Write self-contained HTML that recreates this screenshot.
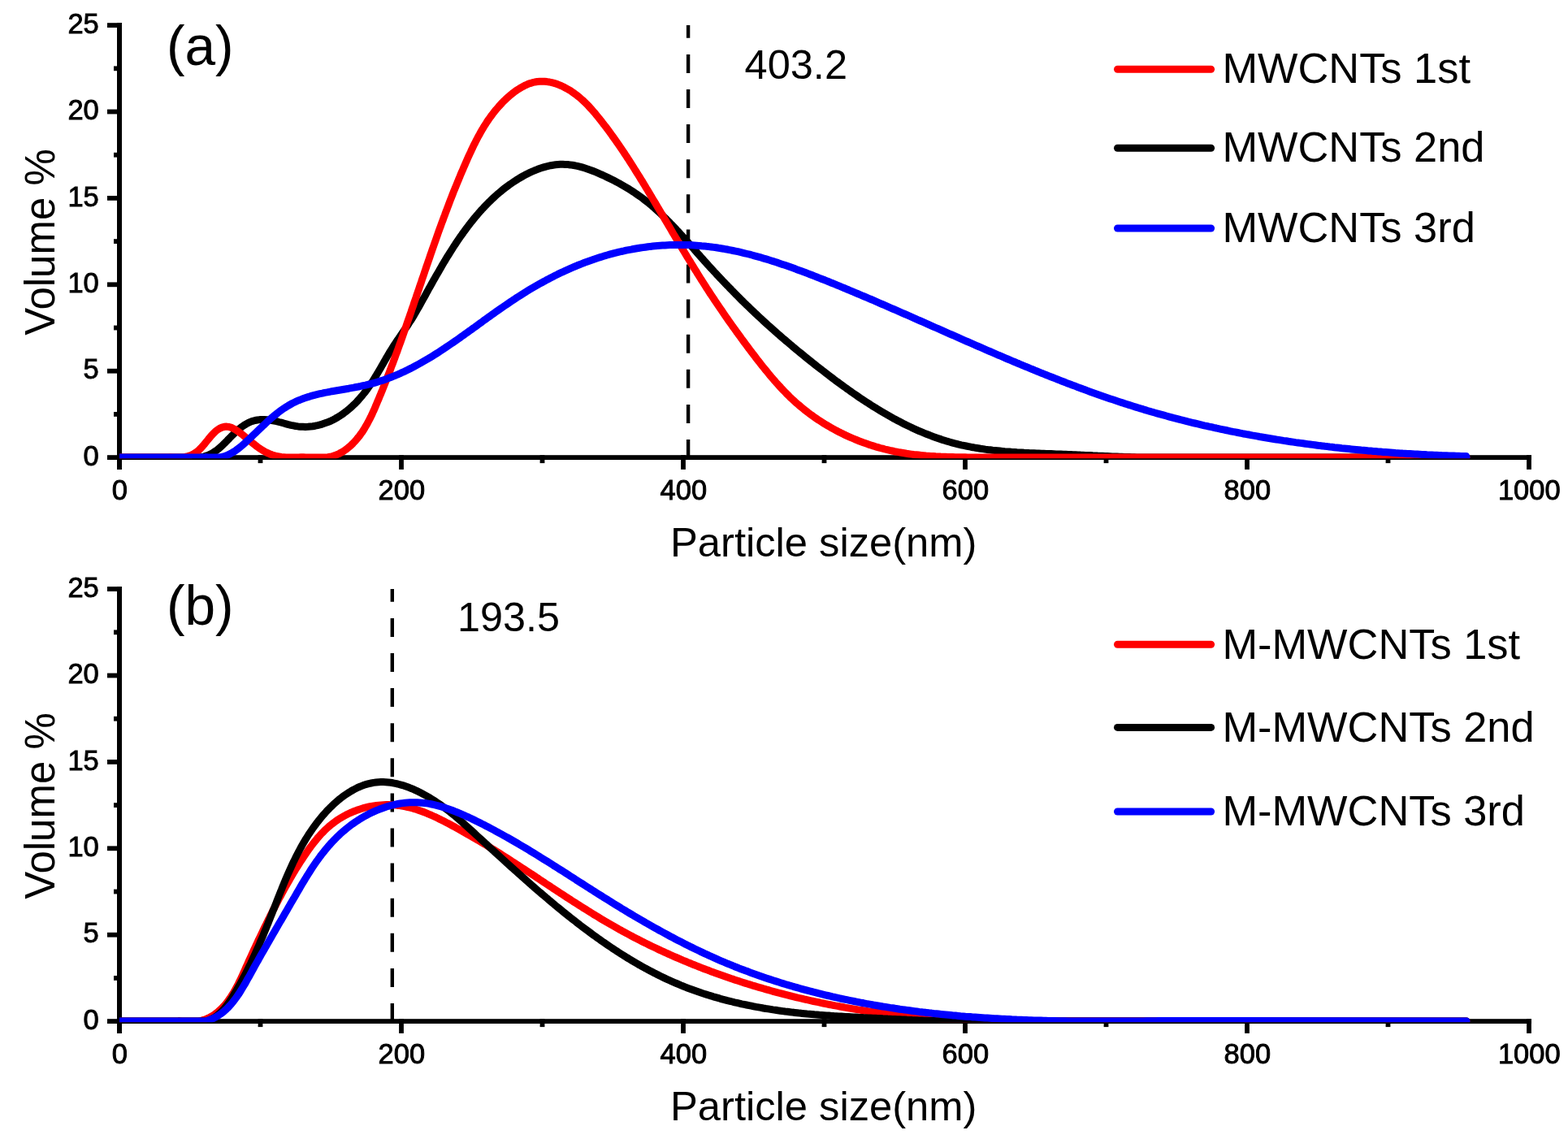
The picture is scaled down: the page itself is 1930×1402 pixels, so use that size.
<!DOCTYPE html><html><head><meta charset="utf-8"><title>Particle size distribution</title><style>html,body{margin:0;padding:0;background:#fff;}svg{display:block;}</style></head><body>
<svg xmlns="http://www.w3.org/2000/svg" width="1930" height="1402" viewBox="0 0 1930 1402" font-family="'Liberation Sans', Arial, sans-serif" fill="#000">
<rect width="1930" height="1402" fill="#fff"/>
<defs><clipPath id="clipa"><rect x="147" y="31" width="1735" height="533.3"/></clipPath><clipPath id="clipb"><rect x="147" y="725" width="1735" height="533.3"/></clipPath></defs>
<rect x="144" y="28.1" width="6" height="549.9"/>
<rect x="144" y="560.2" width="1741.0" height="5.8"/>
<rect x="132" y="560.2" width="18" height="5.8"/>
<rect x="132" y="453.8" width="18" height="5.8"/>
<rect x="132" y="347.4" width="18" height="5.8"/>
<rect x="132" y="241.0" width="18" height="5.8"/>
<rect x="132" y="134.6" width="18" height="5.8"/>
<rect x="132" y="28.2" width="18" height="5.8"/>
<rect x="140" y="507.0" width="10" height="5.8"/>
<rect x="140" y="400.6" width="10" height="5.8"/>
<rect x="140" y="294.2" width="10" height="5.8"/>
<rect x="140" y="187.8" width="10" height="5.8"/>
<rect x="140" y="81.4" width="10" height="5.8"/>
<rect x="144.1" y="560.2" width="5.8" height="17.7"/>
<rect x="491.1" y="560.2" width="5.8" height="17.7"/>
<rect x="838.1" y="560.2" width="5.8" height="17.7"/>
<rect x="1185.1" y="560.2" width="5.8" height="17.7"/>
<rect x="1532.1" y="560.2" width="5.8" height="17.7"/>
<rect x="1879.1" y="560.2" width="5.8" height="17.7"/>
<rect x="317.6" y="560.2" width="5.8" height="9.9"/>
<rect x="664.6" y="560.2" width="5.8" height="9.9"/>
<rect x="1011.6" y="560.2" width="5.8" height="9.9"/>
<rect x="1358.6" y="560.2" width="5.8" height="9.9"/>
<rect x="1705.6" y="560.2" width="5.8" height="9.9"/>
<text x="147.3" y="615.0" text-anchor="middle" font-size="34.5" stroke="#000" stroke-width="0.9">0</text>
<text x="494.3" y="615.0" text-anchor="middle" font-size="34.5" stroke="#000" stroke-width="0.9">200</text>
<text x="841.3" y="615.0" text-anchor="middle" font-size="34.5" stroke="#000" stroke-width="0.9">400</text>
<text x="1188.3" y="615.0" text-anchor="middle" font-size="34.5" stroke="#000" stroke-width="0.9">600</text>
<text x="1535.3" y="615.0" text-anchor="middle" font-size="34.5" stroke="#000" stroke-width="0.9">800</text>
<text x="1882.3" y="615.0" text-anchor="middle" font-size="34.5" stroke="#000" stroke-width="0.9">1000</text>
<text x="121.8" y="572.7" text-anchor="end" font-size="34.5" stroke="#000" stroke-width="0.9">0</text>
<text x="121.8" y="466.3" text-anchor="end" font-size="34.5" stroke="#000" stroke-width="0.9">5</text>
<text x="121.8" y="359.9" text-anchor="end" font-size="34.5" stroke="#000" stroke-width="0.9">10</text>
<text x="121.8" y="253.5" text-anchor="end" font-size="34.5" stroke="#000" stroke-width="0.9">15</text>
<text x="121.8" y="147.1" text-anchor="end" font-size="34.5" stroke="#000" stroke-width="0.9">20</text>
<text x="121.8" y="40.7" text-anchor="end" font-size="34.5" stroke="#000" stroke-width="0.9">25</text>
<text x="825" y="685.0" font-size="50.7">Particle size(nm)</text>
<text transform="translate(67.2 298.0) rotate(-90)" text-anchor="middle" font-size="51">Volume %</text>
<path d="M847.1 564.0 V20.0" stroke="#000" stroke-width="4.4" stroke-dasharray="23 20.1" fill="none" clip-path="url(#clipa)"/>
<path d="M147.0 563.0L229.9 563.0L229.9 562.7 232.9 563.0 235.9 563.0 238.9 563.0 241.9 563.0 244.9 563.0 247.9 562.7 250.8 562.0 253.7 561.2 256.5 560.1 259.3 558.9 261.9 557.5 264.4 555.8 266.9 554.1 269.2 552.2 271.5 550.3 273.7 548.2 275.9 546.1 278.0 544.0 280.1 541.8 282.2 539.7 284.3 537.5 286.4 535.4 288.6 533.3 290.7 531.2 293.0 529.2 295.3 527.2 297.6 525.4 300.1 523.7 302.7 522.1 305.3 520.6 308.0 519.4 310.9 518.3 313.8 517.5 316.7 517.0 319.7 516.6 322.7 516.4 325.7 516.5 328.7 516.7 331.7 517.0 334.7 517.5 337.6 518.1 340.6 518.7 343.5 519.5 346.4 520.2 349.3 521.0 352.2 521.8 355.1 522.6 358.0 523.3 361.0 523.9 363.9 524.5 366.9 524.9 369.9 525.2 372.9 525.3 375.9 525.4 378.9 525.3 381.9 525.0 384.9 524.7 387.9 524.2 390.8 523.6 393.7 522.9 396.6 522.1 399.5 521.1 402.3 520.1 405.1 519.0 407.9 517.8 410.6 516.4 413.2 515.0 415.8 513.5 418.4 511.9 420.9 510.2 423.3 508.5 425.7 506.7 428.1 504.8 430.4 502.9 432.6 500.9 434.8 498.8 437.0 496.7 439.1 494.6 441.1 492.4 443.1 490.1 445.1 487.8 447.0 485.5 448.9 483.2 450.7 480.8 452.5 478.3 454.2 475.9 455.9 473.4 457.6 470.9 459.2 468.4 460.8 465.8 462.4 463.3 463.9 460.7 465.5 458.1 467.0 455.5 468.5 452.9 470.0 450.3 471.5 447.7 473.0 445.1 474.5 442.5 476.0 439.8 477.5 437.3 479.0 434.7 480.6 432.1 482.2 429.5 483.8 427.0 485.4 424.5 487.1 421.9 488.7 419.4 490.4 417.0 492.1 414.5 493.8 412.0 495.5 409.5 497.2 407.0 498.9 404.5 500.6 402.1 502.3 399.6 503.9 397.0 505.6 394.5 507.2 392.0 508.8 389.4 510.3 386.8 511.8 384.2 513.3 381.6 514.8 379.0 516.3 376.4 517.7 373.8 519.2 371.1 520.6 368.5 522.1 365.9 523.6 363.2 525.0 360.6 526.5 358.0 527.9 355.3 529.4 352.7 530.9 350.1 532.3 347.4 533.8 344.8 535.3 342.2 536.8 339.6 538.3 337.0 539.8 334.4 541.3 331.8 542.8 329.2 544.3 326.6 545.8 324.0 547.4 321.4 548.9 318.8 550.5 316.2 552.1 313.7 553.7 311.1 555.3 308.6 556.9 306.1 558.5 303.5 560.2 301.0 561.8 298.5 563.5 296.0 565.2 293.5 566.9 291.0 568.7 288.6 570.4 286.1 572.2 283.7 574.0 281.3 575.8 278.9 577.6 276.5 579.4 274.1 581.3 271.8 583.2 269.4 585.1 267.1 587.1 264.8 589.0 262.5 591.0 260.3 593.0 258.0 595.1 255.8 597.1 253.6 599.2 251.5 601.3 249.3 603.5 247.2 605.6 245.1 607.8 243.1 610.1 241.0 612.3 239.0 614.6 237.1 616.9 235.2 619.2 233.3 621.6 231.4 624.0 229.6 626.4 227.8 628.9 226.1 631.4 224.4 633.9 222.7 636.4 221.1 639.0 219.5 641.6 218.0 644.2 216.5 646.9 215.1 649.5 213.7 652.2 212.4 655.0 211.2 657.7 210.0 660.5 208.9 663.3 207.8 666.2 206.8 669.1 205.9 671.9 205.1 674.9 204.4 677.8 203.7 680.8 203.2 683.8 202.8 686.7 202.5 689.7 202.3 692.8 202.3 695.8 202.4 698.8 202.6 701.8 202.9 704.7 203.3 707.7 203.8 710.6 204.4 713.6 205.1 716.5 205.9 719.4 206.8 722.2 207.7 725.1 208.7 727.9 209.7 730.7 210.8 733.5 211.9 736.3 213.1 739.0 214.3 741.8 215.5 744.5 216.8 747.2 218.1 749.9 219.4 752.6 220.7 755.3 222.1 758.0 223.5 760.6 224.9 763.3 226.3 765.9 227.8 768.5 229.3 771.1 230.8 773.7 232.4 776.2 234.0 778.7 235.6 781.3 237.3 783.7 239.0 786.2 240.7 788.6 242.4 791.1 244.2 793.5 246.1 795.8 247.9 798.2 249.8 800.5 251.7 802.8 253.7 805.1 255.6 807.3 257.6 809.5 259.6 811.8 261.7 813.9 263.7 816.1 265.8 818.3 267.9 820.4 270.0 822.5 272.2 824.6 274.3 826.7 276.5 828.8 278.6 830.9 280.8 832.9 283.0 835.0 285.2 837.0 287.5 839.0 289.7 841.1 291.9 843.1 294.1 845.1 296.4 847.1 298.6 849.1 300.9 851.1 303.1 853.1 305.4 855.0 307.7 857.0 309.9 859.0 312.2 861.0 314.4 863.0 316.7 865.0 318.9 867.0 321.2 869.0 323.4 871.0 325.6 873.0 327.9 875.1 330.1 877.1 332.3 879.1 334.5 881.2 336.7 883.2 338.9 885.3 341.1 887.4 343.3 889.4 345.5 891.5 347.7 893.6 349.9 895.7 352.0 897.8 354.2 899.9 356.3 902.0 358.5 904.1 360.6 906.2 362.8 908.3 364.9 910.4 367.0 912.6 369.2 914.7 371.3 916.9 373.4 919.0 375.5 921.2 377.6 923.4 379.7 925.5 381.7 927.7 383.8 929.9 385.9 932.1 387.9 934.3 390.0 936.5 392.0 938.7 394.1 940.9 396.1 943.1 398.1 945.4 400.2 947.6 402.2 949.8 404.2 952.1 406.2 954.3 408.2 956.6 410.2 958.9 412.1 961.1 414.1 963.4 416.1 965.7 418.0 968.0 420.0 970.3 421.9 972.6 423.9 974.9 425.8 977.2 427.8 979.5 429.7 981.8 431.6 984.1 433.5 986.5 435.4 988.8 437.3 991.1 439.2 993.5 441.1 995.8 443.0 998.2 444.9 1000.5 446.7 1002.9 448.6 1005.2 450.5 1007.6 452.3 1010.0 454.2 1012.4 456.0 1014.7 457.8 1017.1 459.7 1019.5 461.5 1021.9 463.3 1024.3 465.1 1026.7 467.0 1029.1 468.8 1031.5 470.5 1034.0 472.3 1036.4 474.1 1038.8 475.9 1041.3 477.6 1043.7 479.4 1046.2 481.1 1048.6 482.9 1051.1 484.6 1053.6 486.3 1056.0 488.0 1058.5 489.7 1061.0 491.4 1063.5 493.0 1066.1 494.7 1068.6 496.3 1071.1 497.9 1073.6 499.6 1076.2 501.2 1078.8 502.7 1081.3 504.3 1083.9 505.9 1086.5 507.4 1089.1 508.9 1091.7 510.4 1094.3 511.9 1096.9 513.4 1099.5 514.9 1102.2 516.3 1104.8 517.7 1107.5 519.1 1110.2 520.5 1112.9 521.9 1115.6 523.2 1118.3 524.5 1121.0 525.8 1123.7 527.1 1126.4 528.3 1129.2 529.6 1131.9 530.8 1134.7 531.9 1137.5 533.1 1140.3 534.2 1143.1 535.3 1145.9 536.4 1148.7 537.5 1151.5 538.5 1154.4 539.5 1157.2 540.4 1160.1 541.4 1162.9 542.3 1165.8 543.2 1168.7 544.0 1171.6 544.8 1174.5 545.6 1177.4 546.3 1180.3 547.1 1183.3 547.8 1186.2 548.4 1189.2 549.0 1192.1 549.6 1195.1 550.2 1198.0 550.7 1201.0 551.3 1204.0 551.7 1206.9 552.2 1209.9 552.6 1212.9 553.1 1215.9 553.5 1218.8 553.8 1221.8 554.2 1224.8 554.5 1227.8 554.8 1230.8 555.1 1233.8 555.4 1236.8 555.7 1239.8 555.9 1242.8 556.1 1245.8 556.4 1248.8 556.6 1251.8 556.8 1254.8 556.9 1257.8 557.1 1260.8 557.3 1263.8 557.4 1266.8 557.6 1269.8 557.7 1272.8 557.8 1275.8 558.0 1278.8 558.1 1281.9 558.2 1284.9 558.3 1287.9 558.4 1290.9 558.5 1293.9 558.6 1296.9 558.7 1299.9 558.9 1302.9 559.0 1305.9 559.1 1308.9 559.2 1311.9 559.3 1314.9 559.4 1317.9 559.5 1320.9 559.7 1323.9 559.8 1326.9 559.9 1330.0 560.1 1333.0 560.2 1336.0 560.4 1339.0 560.5 1342.0 560.6 1345.0 560.8 1348.0 560.9 1351.0 561.1 1354.0 561.2 1357.0 561.3 1360.0 561.5 1363.0 561.6 1366.0 561.7 1369.0 561.9 1372.0 562.0 1375.0 562.1 1378.0 562.2 1381.0 562.3 1384.1 562.4 1387.1 562.5 1390.1 562.6 1393.1 562.7 1396.1 562.8 1399.1 562.9 1402.1 562.9 1405.1 563.0 1408.1 563.0 1411.1 563.0 1414.1 563.0 1417.1 563.0 1420.1 563.0 1423.2 563.0 1426.2 563.0 1429.2 563.0 1432.2 563.0 1435.2 562.9 1438.2 562.9L1805.0 563.0" stroke="#000" stroke-width="9" fill="none" stroke-linejoin="round" stroke-linecap="round" clip-path="url(#clipa)"/>
<path d="M147.0 563.0L209.0 563.0L209.0 562.7 212.0 563.0 215.0 563.0 218.0 563.0 221.0 563.0 224.0 563.0 227.0 562.7 230.0 562.0 232.8 561.2 235.6 560.1 238.3 558.8 240.9 557.1 243.3 555.3 245.5 553.3 247.6 551.2 249.7 548.9 251.6 546.7 253.5 544.3 255.4 542.0 257.3 539.6 259.2 537.3 261.2 535.1 263.3 532.9 265.5 530.8 267.8 529.0 270.4 527.4 273.1 526.1 276.0 525.3 279.0 525.1 282.0 525.5 284.9 526.4 287.6 527.7 290.2 529.2 292.7 530.8 295.2 532.6 297.6 534.4 299.9 536.3 302.2 538.2 304.6 540.1 306.9 542.1 309.2 544.0 311.5 545.9 313.9 547.7 316.3 549.6 318.7 551.3 321.2 553.0 323.8 554.6 326.4 556.1 329.0 557.5 331.8 558.7 334.6 559.8 337.4 560.7 340.4 561.5 343.3 562.0 346.3 562.5 349.3 562.7 352.3 562.9 355.3 563.0 358.3 563.0 361.3 563.0 364.3 562.9 367.3 562.9 370.4 562.8 373.4 562.8 376.4 562.9 379.4 563.0 382.4 563.0 385.4 563.0 388.4 563.0 391.4 563.0 394.4 563.0 397.4 563.0 400.4 563.0 403.4 562.8 406.4 562.3 409.3 561.5 412.2 560.6 415.0 559.5 417.7 558.3 420.4 556.8 422.9 555.3 425.4 553.6 427.8 551.7 430.1 549.8 432.4 547.8 434.5 545.7 436.6 543.5 438.6 541.3 440.5 538.9 442.4 536.6 444.1 534.1 445.9 531.7 447.5 529.2 449.1 526.6 450.6 524.0 452.1 521.4 453.5 518.7 454.9 516.1 456.3 513.4 457.6 510.7 458.8 507.9 460.1 505.2 461.3 502.4 462.5 499.7 463.6 496.9 464.8 494.1 466.0 491.4 467.1 488.6 468.3 485.8 469.4 483.0 470.6 480.2 471.7 477.4 472.8 474.6 473.9 471.8 475.0 469.1 476.1 466.2 477.2 463.4 478.3 460.6 479.4 457.8 480.5 455.0 481.5 452.2 482.6 449.4 483.7 446.6 484.7 443.8 485.8 440.9 486.8 438.1 487.8 435.3 488.9 432.5 489.9 429.6 490.9 426.8 491.9 424.0 493.0 421.1 494.0 418.3 495.0 415.5 496.0 412.6 497.0 409.8 498.0 406.9 499.0 404.1 500.0 401.3 500.9 398.4 501.9 395.6 502.9 392.7 503.9 389.9 504.9 387.0 505.9 384.2 506.8 381.4 507.8 378.5 508.8 375.7 509.7 372.8 510.7 370.0 511.7 367.1 512.7 364.3 513.6 361.4 514.6 358.6 515.6 355.7 516.5 352.9 517.5 350.0 518.5 347.2 519.4 344.3 520.4 341.5 521.4 338.6 522.3 335.8 523.3 332.9 524.3 330.1 525.2 327.2 526.2 324.4 527.2 321.5 528.2 318.7 529.2 315.8 530.1 313.0 531.1 310.2 532.1 307.3 533.1 304.5 534.1 301.6 535.1 298.8 536.1 296.0 537.1 293.1 538.1 290.3 539.1 287.4 540.1 284.6 541.1 281.8 542.2 278.9 543.2 276.1 544.2 273.3 545.3 270.5 546.3 267.6 547.4 264.8 548.4 262.0 549.5 259.2 550.5 256.4 551.6 253.6 552.7 250.7 553.7 247.9 554.8 245.1 555.9 242.3 557.0 239.5 558.1 236.7 559.2 233.9 560.4 231.1 561.5 228.3 562.6 225.6 563.8 222.8 564.9 220.0 566.1 217.2 567.2 214.4 568.4 211.7 569.6 208.9 570.8 206.1 572.0 203.4 573.2 200.6 574.4 197.9 575.6 195.1 576.8 192.4 578.1 189.6 579.4 186.9 580.6 184.2 581.9 181.5 583.2 178.7 584.6 176.1 585.9 173.4 587.3 170.7 588.7 168.0 590.2 165.4 591.6 162.8 593.1 160.2 594.7 157.6 596.2 155.0 597.9 152.5 599.5 149.9 601.2 147.4 602.9 145.0 604.7 142.5 606.5 140.1 608.3 137.8 610.2 135.4 612.2 133.1 614.1 130.9 616.2 128.6 618.2 126.4 620.3 124.3 622.5 122.2 624.7 120.2 627.0 118.2 629.3 116.2 631.6 114.3 634.0 112.5 636.5 110.8 639.0 109.2 641.6 107.6 644.2 106.2 646.9 104.8 649.7 103.6 652.5 102.6 655.4 101.7 658.3 101.0 661.3 100.5 664.3 100.3 667.3 100.2 670.3 100.3 673.3 100.6 676.3 101.0 679.2 101.7 682.1 102.4 685.0 103.3 687.8 104.4 690.6 105.5 693.3 106.8 696.0 108.2 698.6 109.6 701.2 111.1 703.8 112.8 706.2 114.5 708.7 116.3 711.0 118.1 713.4 120.0 715.6 122.0 717.9 124.0 720.0 126.1 722.2 128.2 724.3 130.4 726.3 132.6 728.3 134.8 730.3 137.1 732.3 139.3 734.2 141.7 736.1 144.0 738.0 146.3 739.9 148.7 741.7 151.1 743.5 153.5 745.4 155.8 747.2 158.2 749.0 160.7 750.8 163.1 752.5 165.5 754.3 168.0 756.0 170.4 757.8 172.9 759.5 175.3 761.2 177.8 762.9 180.3 764.6 182.8 766.3 185.3 768.0 187.8 769.6 190.3 771.3 192.8 772.9 195.3 774.6 197.8 776.2 200.4 777.8 202.9 779.4 205.4 781.0 208.0 782.6 210.5 784.2 213.1 785.8 215.6 787.4 218.2 789.0 220.8 790.6 223.3 792.1 225.9 793.7 228.5 795.2 231.1 796.8 233.6 798.3 236.2 799.9 238.8 801.4 241.4 803.0 244.0 804.5 246.5 806.1 249.1 807.6 251.7 809.1 254.3 810.7 256.9 812.2 259.5 813.7 262.1 815.3 264.7 816.8 267.2 818.3 269.8 819.9 272.4 821.4 275.0 822.9 277.6 824.5 280.2 826.0 282.8 827.5 285.4 829.0 288.0 830.6 290.6 832.1 293.1 833.7 295.7 835.2 298.3 836.7 300.9 838.3 303.5 839.8 306.1 841.4 308.7 842.9 311.2 844.5 313.8 846.0 316.4 847.6 319.0 849.2 321.5 850.7 324.1 852.3 326.7 853.9 329.2 855.5 331.8 857.1 334.3 858.6 336.9 860.2 339.4 861.8 342.0 863.4 344.5 865.1 347.1 866.7 349.6 868.3 352.2 869.9 354.7 871.6 357.2 873.2 359.7 874.8 362.3 876.5 364.8 878.2 367.3 879.8 369.8 881.5 372.3 883.2 374.8 884.9 377.3 886.6 379.8 888.3 382.2 890.0 384.7 891.7 387.2 893.4 389.7 895.1 392.1 896.8 394.6 898.6 397.1 900.3 399.5 902.0 402.0 903.8 404.4 905.6 406.9 907.3 409.3 909.1 411.7 910.9 414.2 912.6 416.6 914.4 419.0 916.2 421.5 918.0 423.9 919.8 426.3 921.6 428.7 923.4 431.1 925.2 433.5 927.0 435.9 928.9 438.3 930.7 440.7 932.5 443.1 934.4 445.4 936.2 447.8 938.1 450.2 940.0 452.5 941.9 454.9 943.8 457.2 945.7 459.5 947.6 461.8 949.5 464.1 951.5 466.4 953.5 468.7 955.4 471.0 957.5 473.2 959.5 475.4 961.5 477.6 963.6 479.8 965.7 482.0 967.8 484.2 969.9 486.3 972.0 488.4 974.2 490.5 976.4 492.5 978.6 494.6 980.9 496.6 983.2 498.5 985.5 500.5 987.8 502.4 990.1 504.3 992.5 506.1 994.9 508.0 997.3 509.8 999.7 511.5 1002.2 513.3 1004.6 515.0 1007.1 516.7 1009.6 518.3 1012.2 520.0 1014.7 521.6 1017.3 523.1 1019.9 524.7 1022.5 526.2 1025.1 527.6 1027.8 529.1 1030.4 530.5 1033.1 531.9 1035.8 533.2 1038.5 534.6 1041.2 535.9 1043.9 537.1 1046.7 538.3 1049.4 539.5 1052.2 540.7 1055.0 541.8 1057.8 543.0 1060.6 544.0 1063.4 545.1 1066.3 546.1 1069.1 547.1 1072.0 548.0 1074.8 548.9 1077.7 549.8 1080.6 550.6 1083.5 551.5 1086.4 552.2 1089.3 553.0 1092.2 553.7 1095.2 554.4 1098.1 555.0 1101.1 555.7 1104.0 556.2 1107.0 556.8 1109.9 557.3 1112.9 557.8 1115.9 558.3 1118.8 558.7 1121.8 559.1 1124.8 559.5 1127.8 559.8 1130.8 560.1 1133.8 560.4 1136.8 560.7 1139.8 561.0 1142.8 561.2 1145.8 561.4 1148.8 561.6 1151.8 561.8 1154.8 561.9 1157.8 562.1 1160.8 562.2 1163.8 562.3 1166.8 562.4 1169.8 562.5 1172.8 562.6 1175.9 562.7 1178.9 562.7 1181.9 562.8 1184.9 562.8 1187.9 562.8 1190.9 562.9 1193.9 562.9 1196.9 562.9 1199.9 562.9 1202.9 563.0 1205.9 563.0 1209.0 563.0 1212.0 563.0 1215.0 563.0 1218.0 563.0L1805.0 563.0" stroke="#f00" stroke-width="9" fill="none" stroke-linejoin="round" stroke-linecap="round" clip-path="url(#clipa)"/>
<path d="M147.0 563.0L253.6 563.0L253.6 562.6 256.5 563.0 259.5 563.0 262.6 563.0 265.6 563.0 268.6 563.0 271.6 562.8 274.5 562.1 277.4 561.2 280.2 560.1 282.9 558.8 285.5 557.4 288.1 555.8 290.6 554.2 293.0 552.4 295.4 550.5 297.7 548.6 300.0 546.6 302.2 544.6 304.4 542.5 306.6 540.5 308.8 538.4 311.0 536.3 313.1 534.3 315.3 532.2 317.5 530.1 319.6 528.0 321.8 525.9 324.0 523.8 326.2 521.8 328.4 519.7 330.6 517.7 332.9 515.7 335.1 513.7 337.4 511.8 339.8 509.9 342.1 508.0 344.5 506.2 347.0 504.4 349.4 502.7 351.9 501.1 354.5 499.5 357.1 498.0 359.7 496.5 362.4 495.2 365.1 493.9 367.9 492.7 370.7 491.6 373.5 490.5 376.4 489.5 379.2 488.6 382.1 487.7 385.0 486.9 387.9 486.1 390.8 485.4 393.8 484.7 396.7 484.1 399.6 483.4 402.6 482.9 405.5 482.3 408.5 481.7 411.5 481.2 414.4 480.7 417.4 480.2 420.4 479.7 423.3 479.2 426.3 478.7 429.3 478.2 432.2 477.6 435.2 477.1 438.1 476.5 441.1 476.0 444.0 475.4 447.0 474.7 449.9 474.1 452.8 473.4 455.8 472.7 458.7 471.9 461.6 471.1 464.5 470.2 467.3 469.3 470.2 468.4 473.0 467.4 475.9 466.4 478.7 465.3 481.5 464.2 484.3 463.1 487.1 462.0 489.8 460.8 492.6 459.6 495.3 458.3 498.1 457.1 500.8 455.8 503.5 454.4 506.2 453.1 508.8 451.7 511.5 450.3 514.1 448.9 516.8 447.4 519.4 445.9 522.0 444.4 524.6 442.9 527.2 441.4 529.8 439.8 532.3 438.3 534.9 436.7 537.4 435.1 540.0 433.4 542.5 431.8 545.0 430.1 547.5 428.5 550.0 426.8 552.5 425.1 555.0 423.4 557.5 421.7 560.0 420.0 562.4 418.3 564.9 416.6 567.3 414.8 569.8 413.1 572.2 411.3 574.7 409.6 577.1 407.8 579.6 406.1 582.0 404.3 584.5 402.6 586.9 400.8 589.3 399.0 591.8 397.3 594.2 395.5 596.6 393.7 599.1 392.0 601.5 390.2 604.0 388.5 606.4 386.7 608.9 385.0 611.3 383.2 613.8 381.5 616.3 379.8 618.7 378.1 621.2 376.4 623.7 374.7 626.2 373.0 628.7 371.3 631.2 369.6 633.7 368.0 636.2 366.3 638.7 364.7 641.3 363.1 643.8 361.5 646.4 359.9 648.9 358.3 651.5 356.7 654.1 355.2 656.7 353.7 659.3 352.2 661.9 350.7 664.5 349.2 667.2 347.7 669.8 346.3 672.4 344.8 675.1 343.4 677.8 342.0 680.4 340.7 683.1 339.3 685.8 338.0 688.5 336.6 691.2 335.3 694.0 334.1 696.7 332.8 699.4 331.6 702.2 330.3 705.0 329.1 707.7 328.0 710.5 326.8 713.3 325.7 716.1 324.6 718.9 323.5 721.7 322.4 724.5 321.4 727.4 320.4 730.2 319.4 733.1 318.4 735.9 317.5 738.8 316.6 741.7 315.7 744.5 314.8 747.4 314.0 750.3 313.2 753.2 312.4 756.1 311.6 759.1 310.9 762.0 310.2 764.9 309.5 767.9 308.9 770.8 308.2 773.8 307.6 776.7 307.1 779.7 306.5 782.6 306.0 785.6 305.5 788.6 305.0 791.5 304.6 794.5 304.2 797.5 303.8 800.5 303.4 803.5 303.1 806.5 302.8 809.5 302.5 812.5 302.3 815.5 302.1 818.5 301.9 821.5 301.7 824.5 301.6 827.5 301.5 830.5 301.4 833.5 301.4 836.5 301.4 839.5 301.4 842.5 301.4 845.6 301.5 848.6 301.6 851.6 301.8 854.6 302.0 857.6 302.2 860.6 302.4 863.6 302.7 866.6 302.9 869.6 303.3 872.5 303.6 875.5 304.0 878.5 304.4 881.5 304.8 884.5 305.3 887.4 305.7 890.4 306.2 893.4 306.8 896.3 307.3 899.3 307.9 902.2 308.5 905.2 309.1 908.1 309.7 911.1 310.4 914.0 311.1 916.9 311.8 919.8 312.5 922.8 313.2 925.7 314.0 928.6 314.8 931.5 315.6 934.4 316.4 937.3 317.2 940.2 318.1 943.0 318.9 945.9 319.8 948.8 320.7 951.7 321.6 954.5 322.5 957.4 323.4 960.2 324.4 963.1 325.4 965.9 326.3 968.8 327.3 971.6 328.3 974.5 329.3 977.3 330.3 980.1 331.4 982.9 332.4 985.8 333.4 988.6 334.5 991.4 335.5 994.2 336.6 997.0 337.7 999.8 338.8 1002.6 339.9 1005.4 341.0 1008.2 342.1 1011.0 343.2 1013.8 344.3 1016.6 345.4 1019.4 346.5 1022.2 347.7 1025.0 348.8 1027.8 349.9 1030.6 351.1 1033.3 352.2 1036.1 353.4 1038.9 354.5 1041.7 355.7 1044.5 356.8 1047.2 358.0 1050.0 359.1 1052.8 360.3 1055.6 361.5 1058.3 362.6 1061.1 363.8 1063.9 365.0 1066.7 366.2 1069.4 367.3 1072.2 368.5 1075.0 369.7 1077.7 370.9 1080.5 372.1 1083.2 373.3 1086.0 374.5 1088.8 375.7 1091.5 376.9 1094.3 378.1 1097.0 379.3 1099.8 380.5 1102.6 381.7 1105.3 382.9 1108.1 384.1 1110.8 385.3 1113.6 386.5 1116.3 387.7 1119.1 388.9 1121.9 390.1 1124.6 391.3 1127.4 392.6 1130.1 393.8 1132.9 395.0 1135.6 396.2 1138.4 397.4 1141.1 398.6 1143.9 399.9 1146.6 401.1 1149.4 402.3 1152.1 403.5 1154.9 404.7 1157.6 405.9 1160.4 407.2 1163.1 408.4 1165.9 409.6 1168.6 410.8 1171.4 412.0 1174.2 413.2 1176.9 414.4 1179.7 415.7 1182.4 416.9 1185.2 418.1 1187.9 419.3 1190.7 420.5 1193.4 421.7 1196.2 422.9 1199.0 424.1 1201.7 425.3 1204.5 426.5 1207.2 427.7 1210.0 428.9 1212.7 430.1 1215.5 431.3 1218.3 432.5 1221.0 433.7 1223.8 434.9 1226.6 436.1 1229.3 437.3 1232.1 438.4 1234.9 439.6 1237.6 440.8 1240.4 442.0 1243.2 443.2 1245.9 444.3 1248.7 445.5 1251.5 446.7 1254.3 447.8 1257.0 449.0 1259.8 450.1 1262.6 451.3 1265.4 452.4 1268.2 453.6 1271.0 454.7 1273.7 455.9 1276.5 457.0 1279.3 458.1 1282.1 459.3 1284.9 460.4 1287.7 461.5 1290.5 462.6 1293.3 463.7 1296.1 464.8 1298.9 465.9 1301.7 467.0 1304.5 468.1 1307.3 469.2 1310.1 470.3 1312.9 471.4 1315.7 472.4 1318.5 473.5 1321.3 474.6 1324.2 475.6 1327.0 476.7 1329.8 477.7 1332.6 478.8 1335.4 479.8 1338.3 480.9 1341.1 481.9 1343.9 482.9 1346.8 483.9 1349.6 484.9 1352.4 485.9 1355.3 486.9 1358.1 487.9 1361.0 488.9 1363.8 489.9 1366.7 490.9 1369.5 491.8 1372.4 492.8 1375.2 493.7 1378.1 494.7 1380.9 495.6 1383.8 496.6 1386.7 497.5 1389.5 498.4 1392.4 499.3 1395.3 500.2 1398.1 501.1 1401.0 502.0 1403.9 502.9 1406.8 503.7 1409.6 504.6 1412.5 505.5 1415.4 506.3 1418.3 507.2 1421.2 508.0 1424.1 508.8 1427.0 509.6 1429.9 510.4 1432.8 511.2 1435.7 512.0 1438.6 512.8 1441.5 513.6 1444.4 514.4 1447.3 515.1 1450.2 515.9 1453.1 516.7 1456.1 517.4 1459.0 518.1 1461.9 518.9 1464.8 519.6 1467.7 520.3 1470.7 521.0 1473.6 521.7 1476.5 522.4 1479.4 523.1 1482.4 523.8 1485.3 524.4 1488.2 525.1 1491.2 525.7 1494.1 526.4 1497.1 527.0 1500.0 527.7 1502.9 528.3 1505.9 528.9 1508.8 529.5 1511.8 530.2 1514.7 530.8 1517.7 531.4 1520.6 531.9 1523.6 532.5 1526.5 533.1 1529.5 533.7 1532.4 534.2 1535.4 534.8 1538.4 535.3 1541.3 535.9 1544.3 536.4 1547.2 536.9 1550.2 537.5 1553.2 538.0 1556.1 538.5 1559.1 539.0 1562.1 539.5 1565.0 540.0 1568.0 540.5 1571.0 541.0 1574.0 541.4 1576.9 541.9 1579.9 542.4 1582.9 542.8 1585.9 543.3 1588.8 543.7 1591.8 544.1 1594.8 544.6 1597.8 545.0 1600.7 545.4 1603.7 545.8 1606.7 546.2 1609.7 546.6 1612.7 547.0 1615.7 547.4 1618.6 547.8 1621.6 548.2 1624.6 548.6 1627.6 548.9 1630.6 549.3 1633.6 549.6 1636.6 550.0 1639.5 550.3 1642.5 550.7 1645.5 551.0 1648.5 551.3 1651.5 551.7 1654.5 552.0 1657.5 552.3 1660.5 552.6 1663.5 552.9 1666.5 553.2 1669.5 553.5 1672.5 553.8 1675.5 554.1 1678.5 554.3 1681.5 554.6 1684.5 554.9 1687.5 555.1 1690.5 555.4 1693.5 555.6 1696.5 555.9 1699.5 556.1 1702.5 556.4 1705.5 556.6 1708.5 556.8 1711.5 557.0 1714.5 557.2 1717.5 557.5 1720.5 557.7 1723.5 557.9 1726.5 558.1 1729.5 558.2 1732.5 558.4 1735.5 558.6 1738.5 558.8 1741.5 559.0 1744.5 559.1 1747.5 559.3 1750.5 559.5 1753.5 559.6 1756.5 559.8 1759.5 559.9 1762.5 560.0 1765.5 560.2 1768.5 560.3 1771.5 560.4 1774.5 560.6 1777.6 560.7 1780.6 560.8 1783.6 560.9 1786.6 561.0 1789.6 561.1 1792.6 561.2 1795.6 561.3 1798.6 561.4 1801.6 561.5 1804.6 561.5L1805.0 563.0" stroke="#00f" stroke-width="9" fill="none" stroke-linejoin="round" stroke-linecap="round" clip-path="url(#clipa)"/>
<text x="205" y="80" font-size="67.6">(a)</text>
<text x="916.6" y="97" font-size="50.5">403.2</text>
<path d="M1375.5 85.3 H1490.6" stroke="#f00" stroke-width="9" stroke-linecap="round"/>
<text x="1504.4" y="102.0" font-size="52.4">MWCNTs 1st</text>
<path d="M1375.5 182.2 H1490.6" stroke="#000" stroke-width="9" stroke-linecap="round"/>
<text x="1504.4" y="199.3" font-size="52.4">MWCNTs 2nd</text>
<path d="M1375.5 281.0 H1490.6" stroke="#00f" stroke-width="9" stroke-linecap="round"/>
<text x="1504.4" y="297.6" font-size="52.4">MWCNTs 3rd</text>
<rect x="144" y="722.1" width="6" height="549.9"/>
<rect x="144" y="1254.2" width="1741.0" height="5.8"/>
<rect x="132" y="1254.2" width="18" height="5.8"/>
<rect x="132" y="1147.8" width="18" height="5.8"/>
<rect x="132" y="1041.4" width="18" height="5.8"/>
<rect x="132" y="935.0" width="18" height="5.8"/>
<rect x="132" y="828.6" width="18" height="5.8"/>
<rect x="132" y="722.1" width="18" height="5.8"/>
<rect x="140" y="1201.0" width="10" height="5.8"/>
<rect x="140" y="1094.6" width="10" height="5.8"/>
<rect x="140" y="988.2" width="10" height="5.8"/>
<rect x="140" y="881.8" width="10" height="5.8"/>
<rect x="140" y="775.4" width="10" height="5.8"/>
<rect x="144.1" y="1254.2" width="5.8" height="17.7"/>
<rect x="491.1" y="1254.2" width="5.8" height="17.7"/>
<rect x="838.1" y="1254.2" width="5.8" height="17.7"/>
<rect x="1185.1" y="1254.2" width="5.8" height="17.7"/>
<rect x="1532.1" y="1254.2" width="5.8" height="17.7"/>
<rect x="1879.1" y="1254.2" width="5.8" height="17.7"/>
<rect x="317.6" y="1254.2" width="5.8" height="9.9"/>
<rect x="664.6" y="1254.2" width="5.8" height="9.9"/>
<rect x="1011.6" y="1254.2" width="5.8" height="9.9"/>
<rect x="1358.6" y="1254.2" width="5.8" height="9.9"/>
<rect x="1705.6" y="1254.2" width="5.8" height="9.9"/>
<text x="147.3" y="1309.0" text-anchor="middle" font-size="34.5" stroke="#000" stroke-width="0.9">0</text>
<text x="494.3" y="1309.0" text-anchor="middle" font-size="34.5" stroke="#000" stroke-width="0.9">200</text>
<text x="841.3" y="1309.0" text-anchor="middle" font-size="34.5" stroke="#000" stroke-width="0.9">400</text>
<text x="1188.3" y="1309.0" text-anchor="middle" font-size="34.5" stroke="#000" stroke-width="0.9">600</text>
<text x="1535.3" y="1309.0" text-anchor="middle" font-size="34.5" stroke="#000" stroke-width="0.9">800</text>
<text x="1882.3" y="1309.0" text-anchor="middle" font-size="34.5" stroke="#000" stroke-width="0.9">1000</text>
<text x="121.8" y="1266.7" text-anchor="end" font-size="34.5" stroke="#000" stroke-width="0.9">0</text>
<text x="121.8" y="1160.3" text-anchor="end" font-size="34.5" stroke="#000" stroke-width="0.9">5</text>
<text x="121.8" y="1053.9" text-anchor="end" font-size="34.5" stroke="#000" stroke-width="0.9">10</text>
<text x="121.8" y="947.5" text-anchor="end" font-size="34.5" stroke="#000" stroke-width="0.9">15</text>
<text x="121.8" y="841.1" text-anchor="end" font-size="34.5" stroke="#000" stroke-width="0.9">20</text>
<text x="121.8" y="734.6" text-anchor="end" font-size="34.5" stroke="#000" stroke-width="0.9">25</text>
<text x="825" y="1379.0" font-size="50.7">Particle size(nm)</text>
<text transform="translate(67.2 992.0) rotate(-90)" text-anchor="middle" font-size="51">Volume %</text>
<path d="M482.8 1258.0 V714.0" stroke="#000" stroke-width="4.4" stroke-dasharray="23 20.1" fill="none" clip-path="url(#clipb)"/>
<path d="M147.0 1257.0L220.8 1257.0L220.8 1256.6 223.7 1257.0 226.8 1257.0 229.8 1257.0 232.8 1257.0 235.8 1257.0 238.8 1257.0 241.8 1257.0 244.8 1257.0 247.8 1256.3 250.7 1255.4 253.5 1254.4 256.3 1253.2 259.0 1251.9 261.6 1250.3 264.1 1248.7 266.5 1246.9 268.8 1245.0 271.1 1243.0 273.2 1240.9 275.3 1238.7 277.3 1236.4 279.2 1234.1 281.0 1231.6 282.7 1229.2 284.4 1226.7 286.0 1224.1 287.6 1221.6 289.1 1219.0 290.6 1216.3 292.0 1213.7 293.4 1211.0 294.7 1208.3 296.0 1205.6 297.3 1202.9 298.6 1200.1 299.8 1197.4 301.1 1194.6 302.3 1191.9 303.5 1189.1 304.8 1186.4 306.0 1183.6 307.2 1180.9 308.5 1178.2 309.7 1175.4 311.0 1172.7 312.2 1169.9 313.5 1167.2 314.8 1164.5 316.1 1161.7 317.3 1159.0 318.6 1156.3 319.9 1153.6 321.2 1150.8 322.5 1148.1 323.8 1145.4 325.1 1142.7 326.4 1140.0 327.8 1137.3 329.1 1134.6 330.4 1131.9 331.8 1129.2 333.1 1126.5 334.5 1123.8 335.8 1121.1 337.2 1118.4 338.6 1115.7 339.9 1113.0 341.3 1110.4 342.7 1107.7 344.1 1105.0 345.6 1102.4 347.0 1099.7 348.4 1097.1 349.9 1094.4 351.3 1091.8 352.8 1089.2 354.3 1086.5 355.8 1083.9 357.3 1081.3 358.8 1078.7 360.3 1076.1 361.9 1073.5 363.4 1070.9 365.0 1068.4 366.6 1065.8 368.2 1063.3 369.8 1060.7 371.5 1058.2 373.1 1055.7 374.8 1053.2 376.5 1050.7 378.2 1048.2 379.9 1045.7 381.7 1043.3 383.5 1040.9 385.3 1038.5 387.2 1036.1 389.1 1033.8 391.0 1031.4 393.0 1029.2 395.0 1026.9 397.1 1024.8 399.2 1022.6 401.4 1020.5 403.6 1018.5 405.9 1016.5 408.2 1014.6 410.6 1012.8 413.0 1011.0 415.5 1009.3 418.0 1007.6 420.6 1006.1 423.2 1004.6 425.9 1003.1 428.6 1001.8 431.3 1000.5 434.1 999.3 436.9 998.2 439.7 997.1 442.5 996.2 445.4 995.3 448.3 994.4 451.2 993.7 454.2 993.0 457.1 992.4 460.1 991.9 463.1 991.5 466.1 991.2 469.1 990.9 472.1 990.7 475.1 990.6 478.1 990.6 481.1 990.7 484.1 990.8 487.1 991.1 490.1 991.4 493.1 991.8 496.1 992.3 499.0 992.8 502.0 993.5 504.9 994.2 507.8 995.0 510.7 995.8 513.6 996.7 516.4 997.7 519.3 998.7 522.1 999.8 524.9 1000.9 527.7 1002.1 530.5 1003.2 533.2 1004.5 535.9 1005.7 538.7 1007.0 541.4 1008.4 544.1 1009.7 546.8 1011.1 549.4 1012.4 552.1 1013.8 554.8 1015.3 557.4 1016.7 560.1 1018.1 562.7 1019.6 565.3 1021.0 568.0 1022.5 570.6 1024.0 573.2 1025.5 575.8 1027.0 578.5 1028.5 581.1 1030.0 583.7 1031.5 586.3 1033.0 588.9 1034.5 591.5 1036.1 594.0 1037.6 596.6 1039.2 599.2 1040.7 601.8 1042.3 604.3 1043.9 606.9 1045.5 609.5 1047.0 612.0 1048.6 614.6 1050.2 617.1 1051.8 619.7 1053.5 622.2 1055.1 624.8 1056.7 627.3 1058.3 629.8 1060.0 632.4 1061.6 634.9 1063.2 637.4 1064.9 639.9 1066.5 642.5 1068.2 645.0 1069.8 647.5 1071.5 650.0 1073.1 652.5 1074.8 655.0 1076.4 657.6 1078.1 660.1 1079.8 662.6 1081.4 665.1 1083.1 667.6 1084.8 670.1 1086.4 672.6 1088.1 675.2 1089.8 677.7 1091.4 680.2 1093.1 682.7 1094.7 685.2 1096.4 687.7 1098.0 690.3 1099.7 692.8 1101.3 695.3 1103.0 697.8 1104.6 700.4 1106.3 702.9 1107.9 705.4 1109.6 708.0 1111.2 710.5 1112.8 713.0 1114.4 715.6 1116.0 718.1 1117.6 720.7 1119.2 723.2 1120.8 725.8 1122.4 728.4 1124.0 730.9 1125.6 733.5 1127.2 736.1 1128.7 738.7 1130.3 741.2 1131.8 743.8 1133.4 746.4 1134.9 749.0 1136.4 751.6 1137.9 754.3 1139.4 756.9 1140.9 759.5 1142.4 762.1 1143.9 764.8 1145.3 767.4 1146.8 770.1 1148.2 772.7 1149.6 775.4 1151.1 778.0 1152.5 780.7 1153.9 783.4 1155.3 786.1 1156.6 788.7 1158.0 791.4 1159.4 794.1 1160.7 796.8 1162.0 799.5 1163.4 802.2 1164.7 805.0 1166.0 807.7 1167.3 810.4 1168.6 813.1 1169.9 815.9 1171.1 818.6 1172.4 821.4 1173.6 824.1 1174.9 826.9 1176.1 829.6 1177.3 832.4 1178.5 835.1 1179.7 837.9 1180.9 840.7 1182.1 843.5 1183.2 846.2 1184.4 849.0 1185.5 851.8 1186.7 854.6 1187.8 857.4 1188.9 860.2 1190.0 863.0 1191.1 865.8 1192.2 868.6 1193.3 871.5 1194.3 874.3 1195.4 877.1 1196.4 879.9 1197.5 882.8 1198.5 885.6 1199.5 888.5 1200.5 891.3 1201.5 894.1 1202.5 897.0 1203.5 899.8 1204.5 902.7 1205.4 905.6 1206.4 908.4 1207.3 911.3 1208.3 914.2 1209.2 917.0 1210.1 919.9 1211.0 922.8 1211.9 925.7 1212.8 928.6 1213.6 931.4 1214.5 934.3 1215.4 937.2 1216.2 940.1 1217.0 943.0 1217.9 945.9 1218.7 948.8 1219.5 951.7 1220.3 954.6 1221.1 957.5 1221.9 960.5 1222.6 963.4 1223.4 966.3 1224.2 969.2 1224.9 972.1 1225.6 975.1 1226.4 978.0 1227.1 980.9 1227.8 983.8 1228.5 986.8 1229.2 989.7 1229.9 992.7 1230.5 995.6 1231.2 998.5 1231.8 1001.5 1232.5 1004.4 1233.1 1007.4 1233.7 1010.3 1234.4 1013.3 1235.0 1016.2 1235.6 1019.2 1236.2 1022.1 1236.7 1025.1 1237.3 1028.1 1237.9 1031.0 1238.4 1034.0 1239.0 1036.9 1239.5 1039.9 1240.1 1042.9 1240.6 1045.8 1241.1 1048.8 1241.6 1051.8 1242.1 1054.8 1242.6 1057.7 1243.1 1060.7 1243.5 1063.7 1244.0 1066.7 1244.4 1069.7 1244.9 1072.6 1245.3 1075.6 1245.7 1078.6 1246.2 1081.6 1246.6 1084.6 1247.0 1087.6 1247.4 1090.6 1247.8 1093.5 1248.1 1096.5 1248.5 1099.5 1248.9 1102.5 1249.2 1105.5 1249.6 1108.5 1249.9 1111.5 1250.2 1114.5 1250.6 1117.5 1250.9 1120.5 1251.2 1123.5 1251.5 1126.5 1251.8 1129.5 1252.0 1132.5 1252.3 1135.5 1252.6 1138.5 1252.8 1141.5 1253.1 1144.5 1253.3 1147.5 1253.6 1150.5 1253.8 1153.5 1254.0 1156.5 1254.2 1159.5 1254.4 1162.5 1254.6 1165.5 1254.8 1168.6 1255.0 1171.6 1255.1 1174.6 1255.3 1177.6 1255.5 1180.6 1255.6 1183.6 1255.8 1186.6 1255.9 1189.6 1256.0 1192.6 1256.1 1195.6 1256.2 1198.7 1256.3 1201.7 1256.4 1204.7 1256.5 1207.7 1256.6 1210.7 1256.7 1213.7 1256.7 1216.7 1256.8 1219.7 1256.9 1222.8 1256.9 1225.8 1256.9 1228.8 1257.0 1231.8 1257.0 1234.8 1257.0 1237.8 1257.0 1240.8 1257.0 1243.9 1257.0 1246.9 1257.0 1249.9 1256.9 1252.9 1256.9 1255.9 1256.9 1258.9 1256.8 1261.9 1256.8 1264.9 1256.7 1268.0 1256.7L1805.0 1257.0" stroke="#f00" stroke-width="9" fill="none" stroke-linejoin="round" stroke-linecap="round" clip-path="url(#clipb)"/>
<path d="M147.0 1257.0L233.5 1257.0L233.5 1257.0 236.5 1257.0 239.5 1257.0 242.5 1257.0 245.5 1257.0 248.5 1257.0 251.5 1257.0 254.5 1256.7 257.4 1255.7 260.1 1254.5 262.8 1253.1 265.3 1251.4 267.7 1249.7 270.0 1247.7 272.2 1245.6 274.3 1243.5 276.3 1241.2 278.2 1238.9 280.0 1236.4 281.7 1234.0 283.4 1231.5 285.1 1229.0 286.7 1226.4 288.2 1223.8 289.8 1221.3 291.3 1218.7 292.8 1216.1 294.3 1213.4 295.8 1210.8 297.2 1208.2 298.6 1205.5 300.1 1202.8 301.4 1200.2 302.8 1197.5 304.2 1194.8 305.5 1192.1 306.8 1189.4 308.2 1186.7 309.5 1184.0 310.7 1181.2 312.0 1178.5 313.3 1175.8 314.5 1173.0 315.7 1170.3 317.0 1167.5 318.2 1164.8 319.4 1162.0 320.5 1159.2 321.7 1156.5 322.9 1153.7 324.1 1150.9 325.2 1148.1 326.4 1145.3 327.5 1142.6 328.6 1139.8 329.8 1137.0 330.9 1134.2 332.0 1131.4 333.1 1128.6 334.2 1125.8 335.3 1123.0 336.4 1120.2 337.6 1117.4 338.7 1114.6 339.8 1111.8 340.9 1109.0 342.0 1106.2 343.1 1103.4 344.2 1100.6 345.3 1097.8 346.5 1095.0 347.6 1092.2 348.7 1089.4 349.9 1086.6 351.0 1083.8 352.2 1081.1 353.4 1078.3 354.6 1075.5 355.8 1072.8 357.1 1070.0 358.3 1067.3 359.6 1064.5 360.8 1061.8 362.2 1059.1 363.5 1056.4 364.8 1053.7 366.2 1051.0 367.6 1048.4 369.0 1045.7 370.5 1043.1 371.9 1040.4 373.4 1037.8 375.0 1035.2 376.5 1032.6 378.1 1030.1 379.7 1027.5 381.4 1025.0 383.1 1022.5 384.8 1020.0 386.5 1017.6 388.3 1015.2 390.1 1012.8 392.0 1010.4 393.9 1008.0 395.8 1005.7 397.7 1003.4 399.7 1001.2 401.7 998.9 403.8 996.7 405.9 994.6 408.1 992.5 410.2 990.4 412.5 988.3 414.7 986.4 417.0 984.4 419.4 982.5 421.8 980.7 424.2 978.9 426.7 977.2 429.2 975.6 431.8 974.0 434.4 972.5 437.0 971.1 439.7 969.7 442.5 968.5 445.3 967.4 448.1 966.3 451.0 965.4 453.9 964.6 456.8 964.0 459.8 963.4 462.8 963.0 465.8 962.7 468.8 962.6 471.8 962.6 474.8 962.7 477.8 963.0 480.8 963.3 483.8 963.8 486.7 964.4 489.6 965.0 492.6 965.8 495.5 966.6 498.3 967.6 501.2 968.6 504.0 969.6 506.8 970.7 509.6 971.9 512.3 973.2 515.0 974.4 517.7 975.8 520.4 977.2 523.0 978.6 525.7 980.1 528.3 981.6 530.8 983.2 533.4 984.8 535.9 986.4 538.4 988.1 540.9 989.8 543.4 991.5 545.8 993.3 548.2 995.1 550.6 996.9 553.0 998.7 555.4 1000.6 557.7 1002.5 560.0 1004.4 562.3 1006.4 564.6 1008.3 566.9 1010.3 569.2 1012.3 571.4 1014.3 573.7 1016.3 575.9 1018.3 578.1 1020.3 580.4 1022.4 582.6 1024.4 584.8 1026.4 587.0 1028.5 589.2 1030.5 591.5 1032.6 593.7 1034.6 595.9 1036.6 598.1 1038.7 600.3 1040.7 602.5 1042.8 604.8 1044.8 607.0 1046.8 609.2 1048.9 611.4 1050.9 613.6 1052.9 615.9 1055.0 618.1 1057.0 620.3 1059.0 622.5 1061.1 624.8 1063.1 627.0 1065.1 629.2 1067.1 631.5 1069.1 633.7 1071.2 636.0 1073.2 638.2 1075.2 640.5 1077.2 642.7 1079.2 645.0 1081.2 647.2 1083.2 649.5 1085.2 651.7 1087.2 654.0 1089.2 656.3 1091.1 658.5 1093.1 660.8 1095.1 663.1 1097.1 665.4 1099.0 667.7 1101.0 670.0 1102.9 672.3 1104.9 674.6 1106.8 676.9 1108.8 679.2 1110.7 681.5 1112.6 683.8 1114.6 686.1 1116.5 688.5 1118.4 690.8 1120.3 693.1 1122.2 695.5 1124.1 697.8 1126.0 700.2 1127.9 702.5 1129.7 704.9 1131.6 707.3 1133.4 709.6 1135.3 712.0 1137.1 714.4 1139.0 716.8 1140.8 719.2 1142.6 721.6 1144.4 724.0 1146.2 726.5 1148.0 728.9 1149.8 731.3 1151.6 733.8 1153.3 736.2 1155.1 738.7 1156.8 741.1 1158.6 743.6 1160.3 746.1 1162.0 748.6 1163.7 751.1 1165.4 753.6 1167.1 756.1 1168.7 758.6 1170.4 761.1 1172.0 763.7 1173.7 766.2 1175.3 768.8 1176.9 771.3 1178.5 773.9 1180.0 776.5 1181.6 779.0 1183.1 781.6 1184.7 784.2 1186.2 786.9 1187.7 789.5 1189.2 792.1 1190.6 794.7 1192.1 797.4 1193.5 800.1 1194.9 802.7 1196.3 805.4 1197.7 808.1 1199.1 810.8 1200.4 813.5 1201.8 816.2 1203.1 818.9 1204.4 821.6 1205.7 824.4 1206.9 827.1 1208.1 829.9 1209.3 832.7 1210.5 835.4 1211.7 838.2 1212.9 841.0 1214.0 843.8 1215.1 846.6 1216.2 849.4 1217.2 852.3 1218.3 855.1 1219.3 857.9 1220.3 860.8 1221.3 863.6 1222.3 866.5 1223.2 869.4 1224.1 872.2 1225.0 875.1 1225.9 878.0 1226.8 880.9 1227.6 883.8 1228.4 886.7 1229.3 889.6 1230.1 892.5 1230.8 895.4 1231.6 898.4 1232.3 901.3 1233.0 904.2 1233.8 907.1 1234.4 910.1 1235.1 913.0 1235.8 916.0 1236.4 918.9 1237.0 921.9 1237.6 924.8 1238.2 927.8 1238.8 930.7 1239.4 933.7 1239.9 936.7 1240.4 939.6 1241.0 942.6 1241.5 945.6 1241.9 948.5 1242.4 951.5 1242.9 954.5 1243.3 957.5 1243.8 960.5 1244.2 963.5 1244.6 966.4 1245.0 969.4 1245.3 972.4 1245.7 975.4 1246.1 978.4 1246.4 981.4 1246.7 984.4 1247.1 987.4 1247.4 990.4 1247.7 993.4 1248.0 996.4 1248.2 999.4 1248.5 1002.4 1248.8 1005.4 1249.0 1008.4 1249.3 1011.4 1249.5 1014.4 1249.7 1017.4 1249.9 1020.4 1250.1 1023.4 1250.4 1026.4 1250.6 1029.4 1250.7 1032.4 1250.9 1035.4 1251.1 1038.4 1251.3 1041.5 1251.5 1044.5 1251.6 1047.5 1251.8 1050.5 1252.0 1053.5 1252.1 1056.5 1252.3 1059.5 1252.4 1062.5 1252.6 1065.5 1252.7 1068.5 1252.9 1071.5 1253.0 1074.5 1253.2 1077.6 1253.3 1080.6 1253.5 1083.6 1253.6 1086.6 1253.8 1089.6 1253.9 1092.6 1254.1 1095.6 1254.2 1098.6 1254.4 1101.6 1254.5 1104.6 1254.7 1107.6 1254.8 1110.6 1255.0 1113.7 1255.1 1116.7 1255.3 1119.7 1255.4 1122.7 1255.6 1125.7 1255.7 1128.7 1255.8 1131.7 1256.0 1134.7 1256.1 1137.7 1256.2 1140.7 1256.3 1143.8 1256.4 1146.8 1256.5 1149.8 1256.6 1152.8 1256.7 1155.8 1256.8 1158.8 1256.8 1161.8 1256.9 1164.8 1257.0 1167.8 1257.0 1170.9 1257.0 1173.9 1257.0 1176.9 1257.0 1179.9 1257.0 1182.9 1257.0 1185.9 1257.0 1188.9 1257.0 1191.9 1257.0 1195.0 1257.0 1198.0 1256.9L1805.0 1257.0" stroke="#000" stroke-width="9" fill="none" stroke-linejoin="round" stroke-linecap="round" clip-path="url(#clipb)"/>
<path d="M147.0 1257.0L240.1 1257.0L240.1 1257.0 243.1 1257.0 246.1 1257.0 249.1 1257.0 252.1 1257.0 255.0 1256.3 257.9 1255.4 260.7 1254.3 263.4 1253.1 266.1 1251.6 268.6 1250.1 271.1 1248.4 273.5 1246.6 275.9 1244.7 278.1 1242.7 280.3 1240.6 282.3 1238.4 284.3 1236.2 286.3 1233.9 288.1 1231.5 289.9 1229.1 291.7 1226.6 293.4 1224.2 295.0 1221.7 296.6 1219.1 298.2 1216.5 299.7 1214.0 301.3 1211.4 302.8 1208.8 304.2 1206.1 305.7 1203.5 307.2 1200.9 308.6 1198.3 310.1 1195.6 311.5 1193.0 313.0 1190.3 314.4 1187.7 315.9 1185.1 317.4 1182.5 318.8 1179.9 320.3 1177.2 321.8 1174.6 323.3 1172.0 324.8 1169.4 326.3 1166.8 327.8 1164.2 329.3 1161.6 330.8 1159.0 332.3 1156.3 333.8 1153.7 335.3 1151.1 336.8 1148.5 338.3 1145.9 339.8 1143.3 341.3 1140.7 342.8 1138.1 344.3 1135.5 345.9 1132.9 347.4 1130.3 348.9 1127.7 350.4 1125.1 351.9 1122.5 353.4 1119.9 354.9 1117.3 356.4 1114.7 357.9 1112.1 359.4 1109.5 360.9 1106.9 362.5 1104.3 364.0 1101.7 365.5 1099.1 367.0 1096.5 368.5 1093.9 370.0 1091.3 371.5 1088.7 373.1 1086.1 374.6 1083.6 376.2 1081.0 377.8 1078.4 379.4 1075.9 381.0 1073.3 382.6 1070.8 384.2 1068.3 385.9 1065.8 387.6 1063.3 389.3 1060.8 391.1 1058.4 392.8 1056.0 394.6 1053.5 396.4 1051.1 398.3 1048.8 400.2 1046.4 402.1 1044.1 404.0 1041.8 406.0 1039.6 408.0 1037.3 410.1 1035.1 412.2 1033.0 414.3 1030.8 416.5 1028.7 418.6 1026.7 420.9 1024.7 423.2 1022.7 425.5 1020.8 427.8 1018.9 430.2 1017.0 432.6 1015.2 435.0 1013.5 437.5 1011.8 440.0 1010.1 442.5 1008.5 445.1 1006.9 447.7 1005.4 450.3 1003.9 453.0 1002.5 455.7 1001.1 458.4 999.8 461.1 998.6 463.9 997.4 466.6 996.3 469.5 995.2 472.3 994.2 475.1 993.2 478.0 992.3 480.9 991.5 483.8 990.8 486.8 990.1 489.7 989.5 492.7 989.0 495.6 988.6 498.6 988.2 501.6 988.0 504.6 987.8 507.6 987.7 510.6 987.7 513.6 987.7 516.7 987.9 519.6 988.2 522.6 988.5 525.6 988.9 528.6 989.4 531.5 990.0 534.5 990.6 537.4 991.3 540.3 992.1 543.2 992.9 546.1 993.8 548.9 994.7 551.8 995.7 554.6 996.7 557.4 997.8 560.2 998.9 563.0 1000.0 565.8 1001.1 568.6 1002.3 571.3 1003.5 574.0 1004.8 576.8 1006.0 579.5 1007.3 582.2 1008.6 584.9 1009.9 587.6 1011.3 590.3 1012.6 593.0 1014.0 595.7 1015.3 598.3 1016.7 601.0 1018.1 603.7 1019.5 606.3 1020.9 609.0 1022.3 611.6 1023.8 614.3 1025.2 616.9 1026.6 619.5 1028.1 622.2 1029.6 624.8 1031.0 627.4 1032.5 630.0 1034.0 632.6 1035.5 635.2 1037.0 637.8 1038.5 640.4 1040.1 643.0 1041.6 645.6 1043.1 648.2 1044.7 650.7 1046.2 653.3 1047.8 655.9 1049.4 658.4 1050.9 661.0 1052.5 663.6 1054.1 666.1 1055.7 668.7 1057.3 671.2 1058.8 673.8 1060.4 676.3 1062.0 678.9 1063.6 681.4 1065.3 684.0 1066.9 686.5 1068.5 689.0 1070.1 691.6 1071.7 694.1 1073.3 696.6 1074.9 699.2 1076.6 701.7 1078.2 704.2 1079.8 706.8 1081.4 709.3 1083.1 711.8 1084.7 714.4 1086.3 716.9 1087.9 719.4 1089.5 722.0 1091.2 724.5 1092.8 727.0 1094.4 729.6 1096.0 732.1 1097.6 734.6 1099.2 737.2 1100.8 739.7 1102.4 742.3 1104.1 744.8 1105.6 747.4 1107.2 749.9 1108.8 752.5 1110.4 755.0 1112.0 757.6 1113.6 760.2 1115.2 762.7 1116.7 765.3 1118.3 767.9 1119.8 770.4 1121.4 773.0 1123.0 775.6 1124.5 778.2 1126.0 780.8 1127.6 783.4 1129.1 786.0 1130.6 788.6 1132.1 791.2 1133.6 793.8 1135.2 796.4 1136.6 799.0 1138.1 801.6 1139.6 804.2 1141.1 806.8 1142.6 809.5 1144.0 812.1 1145.5 814.7 1146.9 817.4 1148.4 820.0 1149.8 822.7 1151.3 825.3 1152.7 828.0 1154.1 830.6 1155.5 833.3 1156.9 836.0 1158.3 838.6 1159.6 841.3 1161.0 844.0 1162.4 846.7 1163.7 849.4 1165.1 852.1 1166.4 854.8 1167.7 857.5 1169.0 860.2 1170.3 862.9 1171.6 865.6 1172.9 868.3 1174.2 871.1 1175.4 873.8 1176.7 876.6 1177.9 879.3 1179.1 882.1 1180.4 884.8 1181.6 887.6 1182.8 890.3 1183.9 893.1 1185.1 895.9 1186.3 898.7 1187.4 901.5 1188.5 904.2 1189.7 907.0 1190.8 909.8 1191.9 912.6 1192.9 915.5 1194.0 918.3 1195.1 921.1 1196.1 923.9 1197.2 926.7 1198.2 929.6 1199.2 932.4 1200.2 935.2 1201.2 938.1 1202.2 940.9 1203.2 943.8 1204.2 946.6 1205.1 949.5 1206.1 952.3 1207.0 955.2 1207.9 958.1 1208.8 960.9 1209.7 963.8 1210.6 966.7 1211.5 969.6 1212.3 972.4 1213.2 975.3 1214.0 978.2 1214.9 981.1 1215.7 984.0 1216.5 986.9 1217.3 989.8 1218.1 992.7 1218.9 995.6 1219.7 998.5 1220.4 1001.4 1221.2 1004.4 1221.9 1007.3 1222.7 1010.2 1223.4 1013.1 1224.1 1016.0 1224.8 1019.0 1225.5 1021.9 1226.2 1024.8 1226.9 1027.8 1227.5 1030.7 1228.2 1033.6 1228.8 1036.6 1229.5 1039.5 1230.1 1042.4 1230.7 1045.4 1231.3 1048.3 1231.9 1051.3 1232.5 1054.2 1233.1 1057.2 1233.7 1060.1 1234.3 1063.1 1234.8 1066.1 1235.4 1069.0 1235.9 1072.0 1236.4 1074.9 1237.0 1077.9 1237.5 1080.9 1238.0 1083.8 1238.5 1086.8 1239.0 1089.8 1239.4 1092.7 1239.9 1095.7 1240.4 1098.7 1240.8 1101.7 1241.3 1104.6 1241.7 1107.6 1242.2 1110.6 1242.6 1113.6 1243.0 1116.5 1243.4 1119.5 1243.8 1122.5 1244.2 1125.5 1244.6 1128.5 1245.0 1131.4 1245.4 1134.4 1245.7 1137.4 1246.1 1140.4 1246.4 1143.4 1246.8 1146.4 1247.1 1149.4 1247.5 1152.4 1247.8 1155.4 1248.1 1158.3 1248.4 1161.3 1248.7 1164.3 1249.0 1167.3 1249.3 1170.3 1249.6 1173.3 1249.9 1176.3 1250.1 1179.3 1250.4 1182.3 1250.7 1185.3 1250.9 1188.3 1251.2 1191.3 1251.4 1194.3 1251.6 1197.3 1251.9 1200.3 1252.1 1203.3 1252.3 1206.3 1252.5 1209.3 1252.7 1212.3 1252.9 1215.3 1253.1 1218.3 1253.3 1221.3 1253.5 1224.3 1253.7 1227.3 1253.8 1230.3 1254.0 1233.3 1254.2 1236.3 1254.3 1239.3 1254.5 1242.3 1254.6 1245.3 1254.8 1248.3 1254.9 1251.3 1255.1 1254.3 1255.2 1257.3 1255.3 1260.3 1255.4 1263.3 1255.5 1266.4 1255.7 1269.4 1255.8 1272.4 1255.9 1275.4 1256.0 1278.4 1256.1 1281.4 1256.1 1284.4 1256.2 1287.4 1256.3 1290.4 1256.4 1293.4 1256.5 1296.4 1256.5 1299.4 1256.6 1302.4 1256.7 1305.4 1256.7 1308.4 1256.8 1311.4 1256.8 1314.5 1256.9 1317.5 1256.9 1320.5 1256.9 1323.5 1257.0 1326.5 1257.0 1329.5 1257.0 1332.5 1257.0 1335.5 1257.0 1338.5 1257.0 1341.5 1257.0 1344.5 1257.0 1347.5 1257.0 1350.5 1257.0 1353.6 1257.0 1356.6 1257.0 1359.6 1257.0 1362.6 1257.0 1365.6 1257.0 1368.6 1257.0 1371.6 1257.0 1374.6 1257.0 1377.6 1257.0 1380.6 1257.0 1383.6 1257.0 1386.6 1257.0 1389.6 1257.0 1392.6 1257.0 1395.7 1257.0 1398.7 1257.0 1401.7 1256.9 1404.7 1256.9 1407.7 1256.9 1410.7 1256.8 1413.7 1256.8 1416.7 1256.7 1419.7 1256.7 1422.7 1256.7 1425.7 1256.6 1428.7 1256.6 1431.7 1256.5 1434.8 1256.5 1437.8 1256.4L1805.0 1257.0" stroke="#00f" stroke-width="9" fill="none" stroke-linejoin="round" stroke-linecap="round" clip-path="url(#clipb)"/>
<text x="205" y="768.8" font-size="67.6">(b)</text>
<text x="563" y="777" font-size="50.3">193.5</text>
<path d="M1375.5 793.3 H1490.6" stroke="#f00" stroke-width="9" stroke-linecap="round"/>
<text x="1504.4" y="810.9" font-size="52.4">M-MWCNTs 1st</text>
<path d="M1375.5 895.4 H1490.6" stroke="#000" stroke-width="9" stroke-linecap="round"/>
<text x="1504.4" y="912.5" font-size="52.4">M-MWCNTs 2nd</text>
<path d="M1375.5 999.0 H1490.6" stroke="#00f" stroke-width="9" stroke-linecap="round"/>
<text x="1504.4" y="1016.0" font-size="52.4">M-MWCNTs 3rd</text>
</svg></body></html>
